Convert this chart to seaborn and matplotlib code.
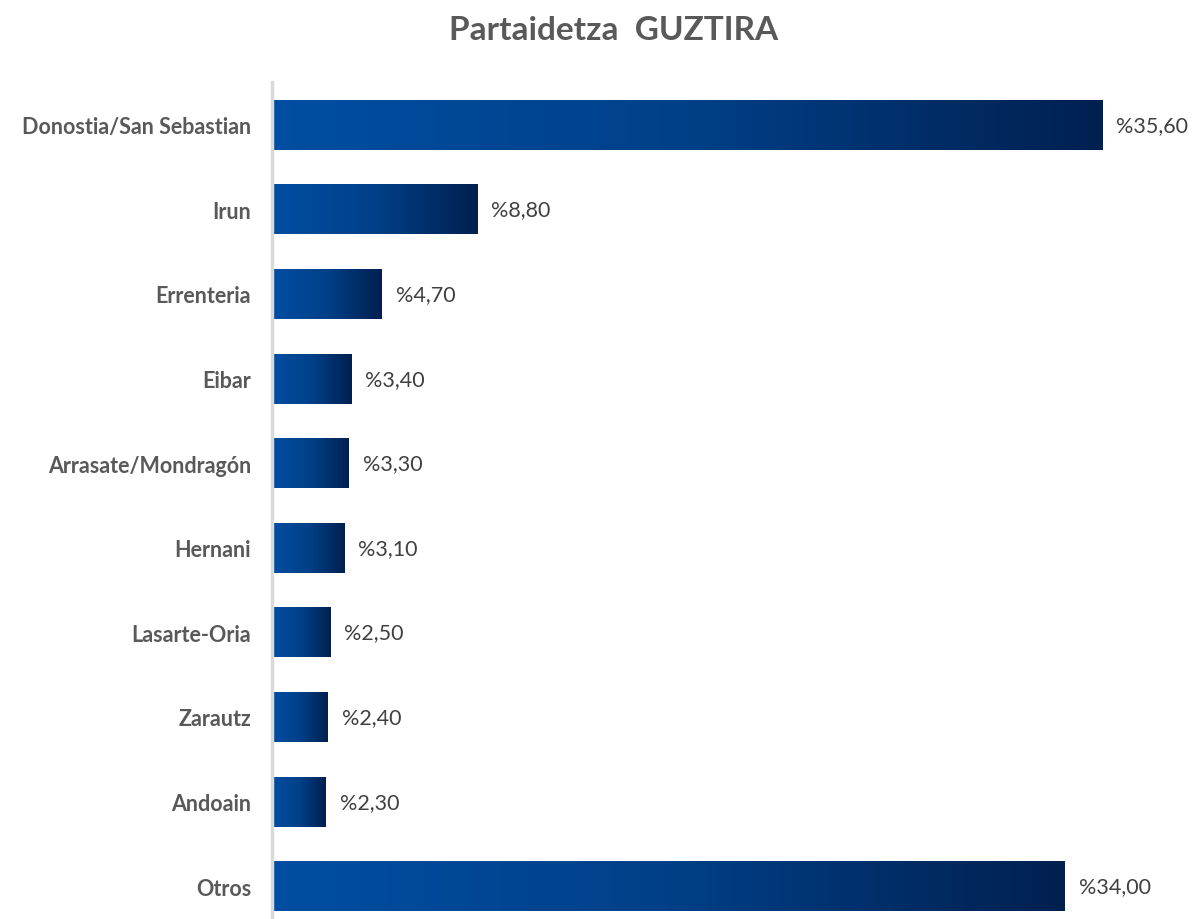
import numpy as np
import pandas as pd
import seaborn as sns
import matplotlib.pyplot as plt
from matplotlib.colors import LinearSegmentedColormap

cities = [
    "Donostia/San Sebastian", "Irun", "Errenteria", "Eibar",
    "Arrasate/Mondragón", "Hernani", "Lasarte-Oria", "Zarautz",
    "Andoain", "Otros"
]
share = [35.6, 8.8, 4.7, 3.4, 3.3, 3.1, 2.5, 2.4, 2.3, 34.0]
value_labels = ["%35,60", "%8,80", "%4,70", "%3,40", "%3,30",
                "%3,10", "%2,50", "%2,40", "%2,30", "%34,00"]

sns.set_theme(style="white")
plt.rcParams["font.family"] = ["Lato", "DejaVu Sans"]

data = pd.DataFrame({"city": cities, "share": share})

fig = plt.figure(figsize=[11.93, 9.2], dpi=100)
ax = fig.add_axes([272 / 1193, -9.5 / 920, 921 / 1193, 846 / 920])
sns.barplot(data=data, x="share", y="city", order=cities,
            width=0.59, color="#00489A", ax=ax)

grad = LinearSegmentedColormap.from_list("bluegrad", ["#004EA2", "#004088", "#002050"])
g = np.linspace(0, 1, 256).reshape(1, -1)
for p in ax.patches:
    x0, y0, w, h = p.get_x(), p.get_y(), p.get_width(), p.get_height()
    ax.imshow(g, cmap=grad, aspect="auto", extent=[x0, x0 + w, y0 + h, y0],
              interpolation="bicubic", zorder=2)
    p.set_visible(False)

for i, (v, lab) in enumerate(zip(share, value_labels)):
    ax.text(v + 0.6, i, lab, va="center", ha="left",
            fontsize=15.5, color="#404040")

ax.set_xlim(0, 39.5)
ax.set_ylim(9.5, -0.5)
ax.set_xlabel("")
ax.set_ylabel("")
ax.set_xticks([])
for s in ["top", "right", "bottom"]:
    ax.spines[s].set_visible(False)
ax.spines["left"].set_color("#D9D9D9")
ax.spines["left"].set_linewidth(2.5)
ax.tick_params(axis="y", length=0, pad=15)
for t in ax.get_yticklabels():
    t.set_fontsize(15.5)
    t.set_fontweight("bold")
    t.set_color("#595959")

fig.text(614 / 1193, 1 - 30 / 920, "Partaidetza  GUZTIRA", ha="center",
         va="center", fontsize=24, fontweight="bold", color="#595959")

fig.savefig("out.png", dpi=100)
